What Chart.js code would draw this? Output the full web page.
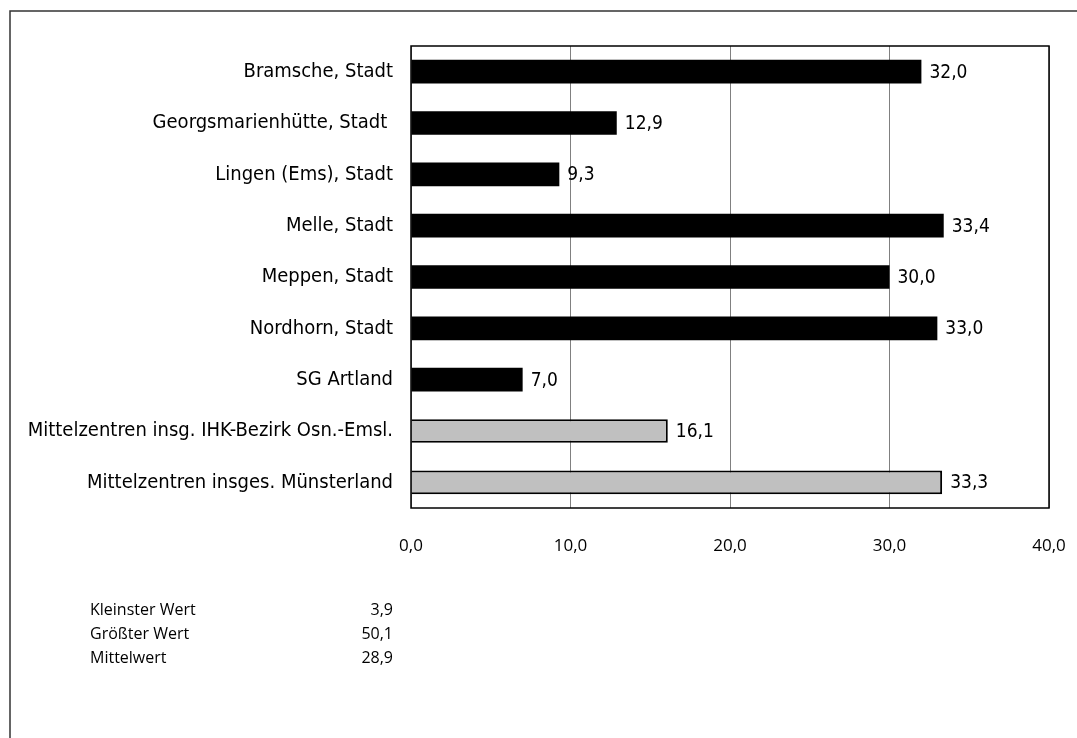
<!DOCTYPE html>
<html lang="de">
<head>
    <meta charset="UTF-8">
    <title>Mittelzentren</title>
    <script src="https://cdn.jsdelivr.net/npm/chart.js"></script>
    <style>
        html, body { margin: 0; padding: 0; background: #fff; }
        #wrap { width: 1077px; height: 738px; }
    </style>
</head>
<body>
    <div id="wrap"><canvas id="chart"></canvas></div>

    <script>
        // Werte aus der Vorlage
        const categories = [
            'Bramsche, Stadt',
            'Georgsmarienhütte, Stadt ',
            'Lingen (Ems), Stadt',
            'Melle, Stadt',
            'Meppen, Stadt',
            'Nordhorn, Stadt',
            'SG Artland',
            'Mittelzentren insg. IHK-Bezirk Osn.-Emsl.',
            'Mittelzentren insges. Münsterland'
        ];
        const values = [32.0, 12.9, 9.3, 33.4, 30.0, 33.0, 7.0, 16.1, 33.3];
        const isSummary = [false, false, false, false, false, false, false, true, true];
        const xTicks = [0, 10, 20, 30, 40];

        const statLabels = ['Kleinster Wert', 'Größter Wert', 'Mittelwert'];
        const statValues = ['3,9', '50,1', '28,9'];

        const NARROW = '"Liberation Sans Narrow", "DejaVu Sans Condensed", sans-serif';
        const FONT = '"Open Sans", "DejaVu Sans", sans-serif';
        const fmt = v => v.toFixed(1).replace('.', ',');

        // Rahmen, Plotrahmen, Wertbeschriftungen, Kennzahlen
        const extras = {
            id: 'extras',
            beforeDraw(chart) {
                const ctx = chart.ctx;
                ctx.save();
                ctx.fillStyle = '#fff';
                ctx.fillRect(0, 0, chart.width, chart.height);
                ctx.strokeStyle = '#333';
                ctx.lineWidth = 1.5;
                ctx.strokeRect(10, 11, chart.width + 20, chart.height + 20);
                ctx.restore();
            },
            afterDatasetsDraw(chart) {
                const ctx = chart.ctx;
                const a = chart.chartArea;
                ctx.save();
                ctx.strokeStyle = '#000';
                ctx.lineWidth = 1.5;
                ctx.strokeRect(a.left, a.top, a.right - a.left, a.bottom - a.top);

                ctx.fillStyle = '#000';
                ctx.font = '19px ' + NARROW;
                ctx.textBaseline = 'middle';
                ctx.textAlign = 'left';
                chart.getDatasetMeta(0).data.forEach((bar, i) => {
                    ctx.fillText(fmt(values[i]), bar.x + 8, bar.y + 1);
                });

                ctx.font = '16px ' + FONT;
                statLabels.forEach((t, i) => {
                    const y = 610 + i * 24;
                    ctx.textAlign = 'left';
                    ctx.fillText(t, 90, y);
                    ctx.textAlign = 'right';
                    ctx.fillText(statValues[i], 393, y);
                });
                ctx.restore();
            }
        };

        new Chart(document.getElementById('chart'), {
            type: 'bar',
            data: {
                labels: categories,
                datasets: [{
                    data: values,
                    backgroundColor: isSummary.map(s => s ? '#c0c0c0' : '#000'),
                    borderColor: '#000',
                    borderWidth: isSummary.map(s => s ? 2 : 0),
                    barPercentage: 0.92,
                    categoryPercentage: 0.5
                }]
            },
            options: {
                indexAxis: 'y',
                responsive: true,
                maintainAspectRatio: false,
                animation: false,
                layout: { padding: { top: 46, right: 28, bottom: 170, left: 0 } },
                plugins: { legend: { display: false }, tooltip: { enabled: false } },
                scales: {
                    x: {
                        min: 0,
                        max: 40,
                        afterBuildTicks: s => { s.ticks = xTicks.map(v => ({ value: v })); },
                        afterFit: s => { s.height = 60; s.paddingLeft = 0; s.paddingRight = 0; },
                        grid: { color: '#808080', lineWidth: 1, drawTicks: false },
                        border: { display: false },
                        ticks: {
                            color: '#000',
                            font: { family: FONT, size: 17 },
                            padding: 28,
                            callback: v => fmt(v)
                        }
                    },
                    y: {
                        afterFit: s => { s.width = 411; },
                        grid: { display: false, drawTicks: false },
                        border: { display: false },
                        ticks: {
                            color: '#000',
                            font: { family: NARROW, size: 20 },
                            padding: 18,
                            autoSkip: false
                        }
                    }
                }
            },
            plugins: [extras]
        });
    </script>
</body>
</html>
